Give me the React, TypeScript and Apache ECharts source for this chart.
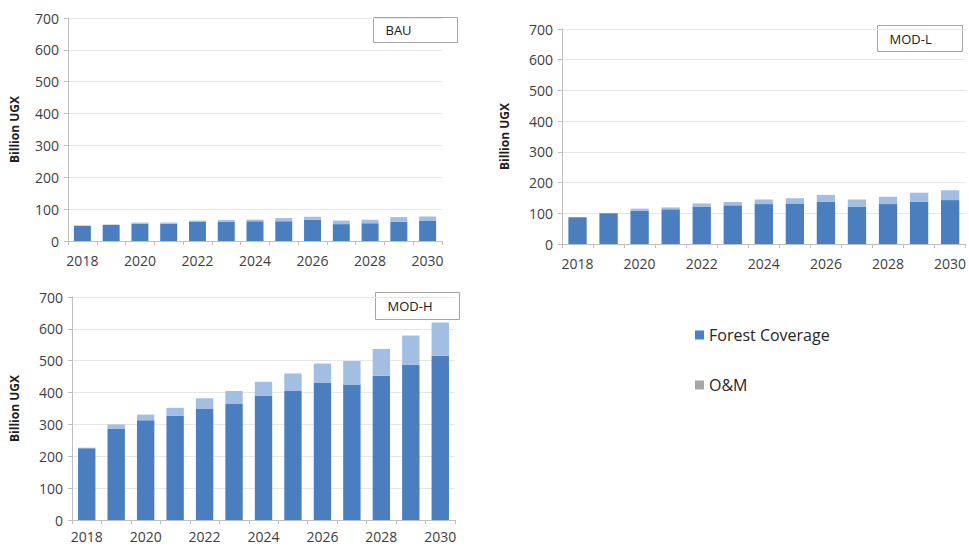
import React, { useEffect, useRef } from "react";
import * as echarts from "echarts";

const years = ["2018","2019","2020","2021","2022","2023","2024","2025","2026","2027","2028","2029","2030"];

const bauForest = [48, 51, 54, 54, 61, 60, 62, 62, 67, 53, 56, 60, 64];
const bauOM = [0, 0, 4, 4, 3, 6, 5, 10, 9, 11, 11, 15, 13];

const modLForest = [87, 100, 108, 113, 122, 126, 130, 132, 138, 122, 130, 138, 143];
const modLOM = [0, 0, 7, 6, 10, 11, 15, 17, 22, 23, 24, 29, 32];

const modHForest = [225, 287, 313, 327, 350, 366, 389, 405, 430, 425, 453, 487, 515];
const modHOM = [2, 13, 18, 25, 32, 39, 45, 55, 61, 74, 84, 92, 105];

const panelNames = ["BAU", "MOD-L", "MOD-H"];
const yTicks = [0, 100, 200, 300, 400, 500, 600, 700];

const DARK = "#4a7ebf";
const LIGHT = "#a2bee3";
const GREY_LEGEND = "#a6a6a6";
const FONT = "'Open Sans', 'Liberation Sans', sans-serif";

export default function App() {
  const ref = useRef<HTMLDivElement>(null);
  useEffect(() => {
    if (!ref.current) return;
    const chart = echarts.init(ref.current, undefined, { renderer: "svg" });

    const grids = [
      { left: 68, top: 18, width: 374, height: 223 },
      { left: 562, top: 29, width: 407, height: 215 },
      { left: 72, top: 297, width: 383, height: 223 },
    ];
    const nameGaps = [48, 52, 52];
    const xMargins = [12, 12, 9];
    const data = [
      [bauForest, bauOM],
      [modLForest, modLOM],
      [modHForest, modHOM],
    ];
    const boxes = [
      { x: 373, y: 17, w: 84, h: 25 },
      { x: 877, y: 25, w: 85, h: 26 },
      { x: 375, y: 292, w: 84, h: 27 },
    ];

    const xAxis = grids.map((_, i) => ({
      type: "category" as const,
      gridIndex: i,
      data: years,
      axisLine: { lineStyle: { color: "#bfbfbf" } },
      axisTick: { show: true, interval: 0, alignWithLabel: false, lineStyle: { color: "#bfbfbf" }, length: 4 },
      axisLabel: { interval: 1, color: "#404040", fontSize: 14, fontFamily: FONT, margin: xMargins[i] },
    }));
    const yAxis = grids.map((_, i) => ({
      type: "value" as const,
      gridIndex: i,
      min: yTicks[0],
      max: yTicks[yTicks.length - 1],
      interval: 100,
      name: "Billion UGX",
      nameLocation: "middle" as const,
      nameGap: nameGaps[i],
      nameTextStyle: { color: "#202020", fontWeight: "bold" as const, fontSize: 12, fontFamily: FONT },
      axisLine: { show: true, lineStyle: { color: "#bfbfbf" } },
      axisTick: { show: true, length: 4, lineStyle: { color: "#bfbfbf" } },
      axisLabel: { color: "#404040", fontSize: 14, fontFamily: FONT, margin: 9 },
      splitLine: { lineStyle: { color: "#e6e6e6" } },
    }));

    const series: any[] = [];
    data.forEach((d, i) => {
      series.push({
        name: "Forest Coverage",
        type: "bar",
        stack: "s" + i,
        xAxisIndex: i,
        yAxisIndex: i,
        data: d[0],
        barWidth: "59%",
        itemStyle: { color: DARK },
      });
      series.push({
        name: "O&M",
        type: "bar",
        stack: "s" + i,
        xAxisIndex: i,
        yAxisIndex: i,
        data: d[1],
        barWidth: "59%",
        itemStyle: { color: LIGHT },
      });
    });

    const graphic = boxes.map((b, i) => ({
      type: "group",
      left: b.x,
      top: b.y,
      children: [
        { type: "rect", shape: { x: 0, y: 0, width: b.w, height: b.h }, style: { fill: "#fff", stroke: "#a6a6a6", lineWidth: 1 } },
        { type: "text", x: 12, y: b.h / 2, style: { text: panelNames[i], fill: "#202020", font: `13px ${FONT}`, verticalAlign: "middle" } },
      ],
    }));

    chart.setOption({
      animation: false,
      backgroundColor: "#fff",
      grid: grids.map((g) => ({ ...g, containLabel: false })),
      xAxis,
      yAxis,
      legend: {
        orient: "vertical",
        left: 690,
        top: 322,
        itemWidth: 9,
        itemHeight: 9,
        itemGap: 34,
        textStyle: { color: "#262626", fontSize: 16, fontFamily: FONT },
        data: [
          { name: "Forest Coverage", icon: "rect", itemStyle: { color: DARK } },
          { name: "O&M", icon: "rect", itemStyle: { color: GREY_LEGEND } },
        ],
      },
      graphic,
      series,
    });
    return () => chart.dispose();
  }, []);
  return <div ref={ref} style={{ position: "absolute", left: 0, top: 0, width: 969, height: 546 }} />;
}
